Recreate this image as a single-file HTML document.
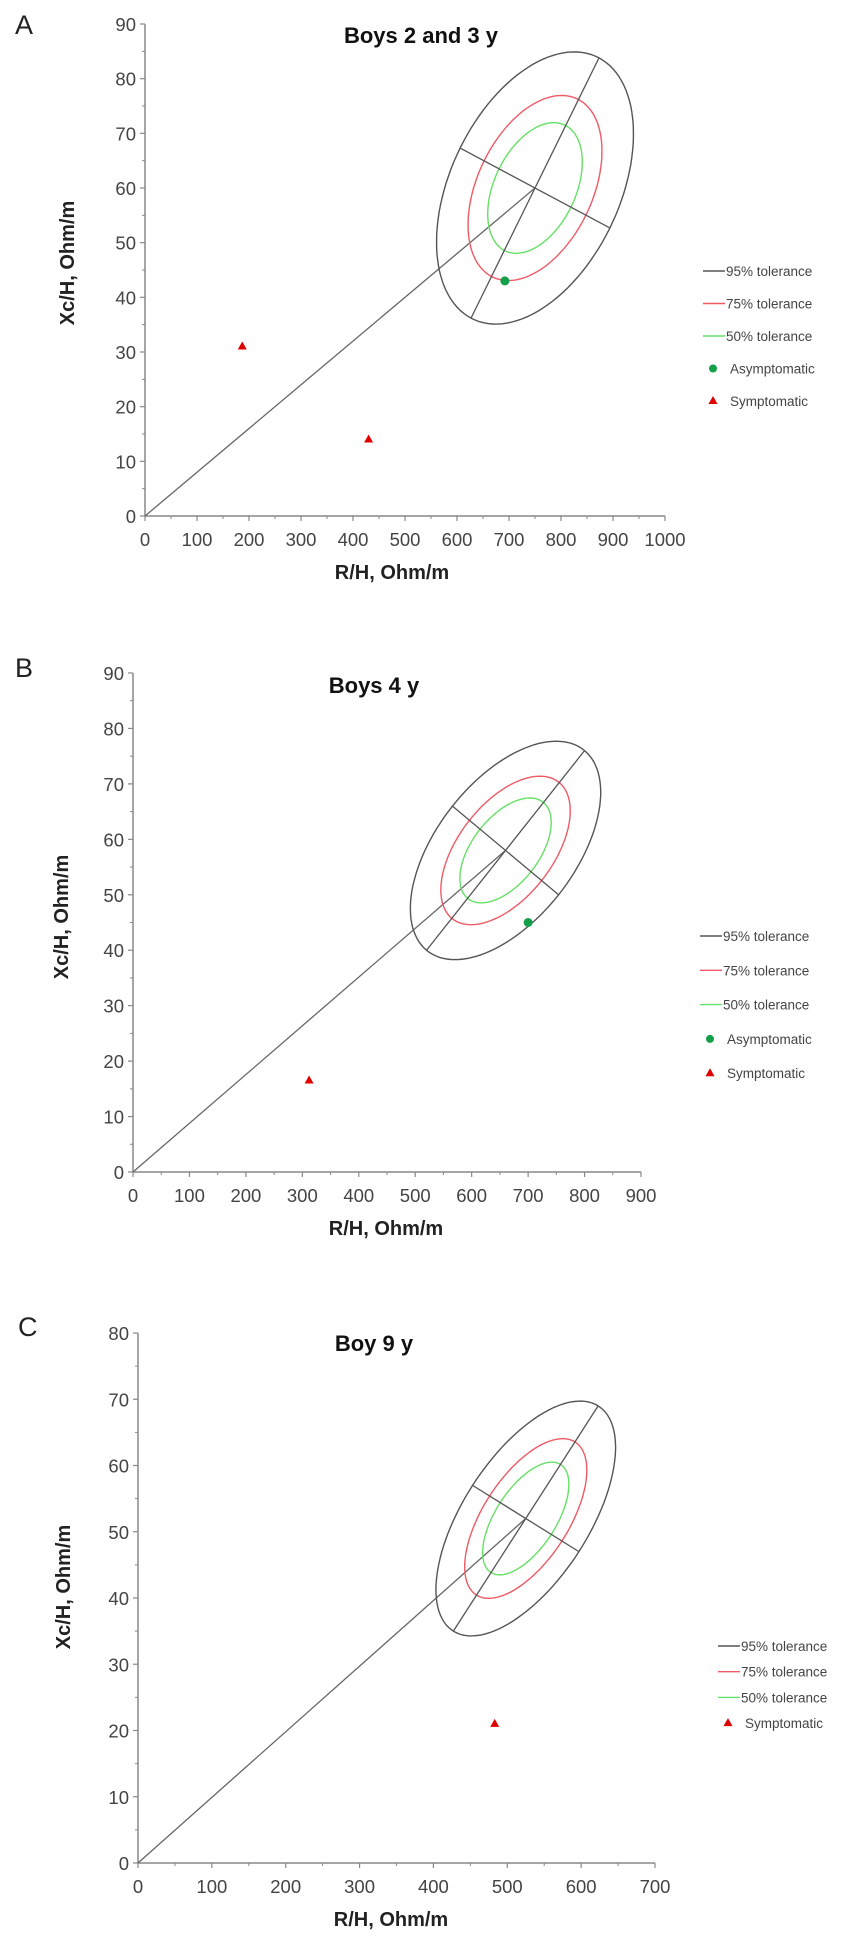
<!DOCTYPE html>
<html><head><meta charset="utf-8">
<style>
body{margin:0;background:#fff;}
svg{display:block;font-family:"Liberation Sans",Arial,sans-serif;}
</style></head>
<body>
<svg id="fig" width="851" height="1949" viewBox="0 0 851 1949" xmlns="http://www.w3.org/2000/svg"></svg>
<script>
// ---- Panel A data ----
const titleA = "Boys 2 and 3 y";
const xTicksA = [0,100,200,300,400,500,600,700,800,900,1000];
const yTicksA = [0,10,20,30,40,50,60,70,80,90];
const centerA = [750, 60];
const majorA = [123, 23.8];
const minorA = [144, -7.3];
const asymA_x = [692];
const asymA_y = [43];
const sympA_x = [187, 430];
const sympA_y = [31, 14];

// ---- Panel B data ----
const titleB = "Boys 4 y";
const xTicksB = [0,100,200,300,400,500,600,700,800,900];
const yTicksB = [0,10,20,30,40,50,60,70,80,90];
const centerB = [660, 58];
const majorB = [140, 18];
const minorB = [94, -8];
const asymB_x = [700];
const asymB_y = [45];
const sympB_x = [312];
const sympB_y = [16.5];

// ---- Panel C data ----
const titleC = "Boy 9 y";
const xTicksC = [0,100,200,300,400,500,600,700];
const yTicksC = [0,10,20,30,40,50,60,70,80];
const centerC = [525, 52];
const majorC = [98, 17];
const minorC = [72, -5];
const asymC_x = [];
const asymC_y = [];
const sympC_x = [483];
const sympC_y = [21];

const tolScale = [1, 0.68, 0.48];
const tolColor = ["#555", "#ee5a66", "#66e066"];
const tolLabel = ["95% tolerance", "75% tolerance", "50% tolerance"];

const NS = "http://www.w3.org/2000/svg";
const svg = document.getElementById("fig");
function mk(tag, attrs, parent){
  const e = document.createElementNS(NS, tag);
  for (const k in attrs) e.setAttribute(k, attrs[k]);
  (parent||svg).appendChild(e);
  return e;
}

function panel(p){
  const g = mk("g", {});
  
  
  const xMax = p.xTicks[p.xTicks.length-1], yMax = p.yTicks[p.yTicks.length-1];
  const X = v => p.x0 + (v / xMax) * (p.x1 - p.x0);
  const Y = v => p.y0 - (v / yMax) * (p.y0 - p.y1);

  const L = mk("text", {x:p.lx, y:p.ly, "font-size":27, fill:"#222"}, g);
  L.textContent = p.id;
  
  

  const T = mk("text", {x:p.tx, y:p.ty, "font-size":22, "font-weight":"bold", fill:"#111", "text-anchor":"middle"}, g);
  T.textContent = p.title;
  
  

  const ax = mk("path", {d:`M${p.x0},${p.y1}V${p.y0}H${p.x1}`, stroke:"#888", "stroke-width":1.5, fill:"none"}, g);
  
  

  for (let i=0;i<p.yTicks.length;i++){
    const v = p.yTicks[i];
    mk("line",{x1:p.x0-5,x2:p.x0,y1:Y(v),y2:Y(v),stroke:"#888","stroke-width":1.2},g);
    if (i<p.yTicks.length-1){ const m=(v+p.yTicks[i+1])/2;
      mk("line",{x1:p.x0-3,x2:p.x0,y1:Y(m),y2:Y(m),stroke:"#888","stroke-width":1},g); }
    const t = mk("text",{x:p.x0-9,y:Y(v)+7,"font-size":18.5,fill:"#444","text-anchor":"end"},g);
    t.textContent = v;
    
    
  }
  for (let i=0;i<p.xTicks.length;i++){
    const v = p.xTicks[i];
    mk("line",{x1:X(v),x2:X(v),y1:p.y0,y2:p.y0+5,stroke:"#888","stroke-width":1.2},g);
    if (i<p.xTicks.length-1){ const m=(v+p.xTicks[i+1])/2;
      mk("line",{x1:X(m),x2:X(m),y1:p.y0,y2:p.y0+3,stroke:"#888","stroke-width":1},g); }
    const t = mk("text",{x:X(v),y:p.y0+30,"font-size":18.5,fill:"#444","text-anchor":"middle"},g);
    t.textContent = v;
    
    
  }
  const xt = mk("text",{x:p.xtx,y:p.y0+63,"font-size":20,"font-weight":"bold",fill:"#222","text-anchor":"middle"},g);
  xt.textContent = "R/H, Ohm/m";
  
  
  const yt = mk("text",{x:0,y:0,"font-size":20,"font-weight":"bold",fill:"#222","text-anchor":"middle",
    transform:`translate(${p.ytx},${p.yty}) rotate(-90)`},g);
  yt.textContent = "Xc/H, Ohm/m";
  
  

  const c = p.center, M = p.major, n = p.minor;
  const rl = mk("line",{x1:X(0),y1:Y(0),x2:X(c[0]),y2:Y(c[1]),stroke:"#666","stroke-width":1.3},g);
  
  
  for (let k=0;k<tolScale.length;k++){
    const s = tolScale[k]; let d="";
    for (let j=0;j<=120;j++){ const a=j/120*2*Math.PI;
      const vx=c[0]+s*(Math.cos(a)*M[0]+Math.sin(a)*n[0]);
      const vy=c[1]+s*(Math.cos(a)*M[1]+Math.sin(a)*n[1]);
      d += (j?"L":"M")+X(vx).toFixed(1)+","+Y(vy).toFixed(1); }
    const e = mk("path",{d:d+"Z",fill:"none",stroke:tolColor[k],"stroke-width":1.4},g);
    
    
  }
  const ma = mk("line",{x1:X(c[0]-M[0]),y1:Y(c[1]-M[1]),x2:X(c[0]+M[0]),y2:Y(c[1]+M[1]),stroke:"#555","stroke-width":1.3},g);
  
  
  const mi = mk("line",{x1:X(c[0]-n[0]),y1:Y(c[1]-n[1]),x2:X(c[0]+n[0]),y2:Y(c[1]+n[1]),stroke:"#555","stroke-width":1.3},g);
  
  

  for (let i=0;i<p.ax.length;i++){
    const pt = mk("circle",{cx:X(p.ax[i]),cy:Y(p.ay[i]),r:4.5,fill:"#14a04a"},g);
    
    
  }
  for (let i=0;i<p.sx.length;i++){
    const px=X(p.sx[i]), py=Y(p.sy[i]);
    const pt = mk("path",{d:`M${px},${py-5}L${px+4.5},${py+3}L${px-4.5},${py+3}Z`,fill:"#e00000"},g);
    
    
  }

  const lg = mk("g",{},g);
  
  
  let row = 0;
  const labels = [];
  for (let k=0;k<3;k++) labels.push({type:"line",color:tolColor[k],text:tolLabel[k]});
  if (p.ax.length) labels.push({type:"dot",text:"Asymptomatic"});
  labels.push({type:"tri",text:"Symptomatic"});
  for (const it of labels){
    const yy = p.legY + row*p.legDy; row++;
    const ent = mk("g",{},lg);
    
    
    let tx = p.legX + 23;
    if (it.type==="line") mk("line",{x1:p.legX,x2:p.legX+22,y1:yy,y2:yy,stroke:it.color,"stroke-width":1.4},ent);
    else if (it.type==="dot"){ mk("circle",{cx:p.legX+10,cy:yy,r:4,fill:"#14a04a"},ent); tx=p.legX+27; }
    else { const px=p.legX+10; mk("path",{d:`M${px},${yy-5}L${px+4.5},${yy+3}L${px-4.5},${yy+3}Z`,fill:"#e00000"},ent); tx=p.legX+27; }
    const t = mk("text",{x:tx,y:yy+5,"font-size":13.5,fill:"#444"},ent);
    t.textContent = it.text;
  }
}

panel({id:"A",title:titleA,xTicks:xTicksA,yTicks:yTicksA,x0:145,x1:665,y0:516,y1:24,
  lx:15,ly:34,tx:421,ty:43,xtx:392,ytx:74,yty:263,
  center:centerA,major:majorA,minor:minorA,ax:asymA_x,ay:asymA_y,sx:sympA_x,sy:sympA_y,
  legX:703,legY:271,legDy:32.5});
panel({id:"B",title:titleB,xTicks:xTicksB,yTicks:yTicksB,x0:133,x1:641,y0:1172,y1:673,
  lx:15,ly:677,tx:374,ty:693,xtx:386,ytx:68,yty:917,
  center:centerB,major:majorB,minor:minorB,ax:asymB_x,ay:asymB_y,sx:sympB_x,sy:sympB_y,
  legX:700,legY:936,legDy:34.3});
panel({id:"C",title:titleC,xTicks:xTicksC,yTicks:yTicksC,x0:138,x1:655,y0:1863,y1:1333,
  lx:18,ly:1336,tx:374,ty:1351,xtx:391,ytx:70,yty:1587,
  center:centerC,major:majorC,minor:minorC,ax:asymC_x,ay:asymC_y,sx:sympC_x,sy:sympC_y,
  legX:718,legY:1646,legDy:25.7});
</script>
</body></html>
